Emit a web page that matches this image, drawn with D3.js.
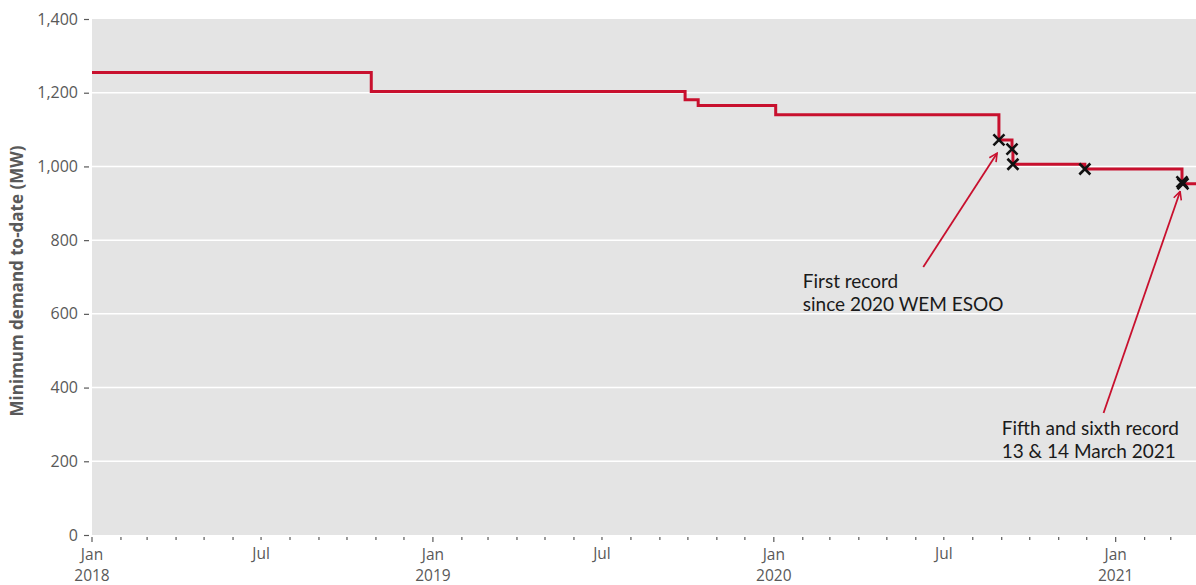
<!DOCTYPE html>
<html>
<head>
<meta charset="utf-8">
<script src="https://cdn.jsdelivr.net/npm/d3@7"></script>
<style>
  html, body { margin: 0; padding: 0; background: #fff; }
  svg { display: block; font-family: "Open Sans", "Noto Sans", sans-serif; }
</style>
</head>
<body>
<svg id="chart" width="1196" height="585"></svg>
<script>
// ---- data ----
const stepDates  = ["2018-01-01","2018-10-27","2019-09-28","2019-10-12","2020-01-03","2020-08-29","2020-09-12","2020-09-13","2020-11-29","2021-03-13","2021-03-14"];
const stepValues = [1255, 1203, 1181, 1165, 1140, 1072, 1047, 1006, 993, 958, 953];
const domainEnd  = "2021-03-28";

const recordDates  = ["2020-08-29","2020-09-12","2020-09-13","2020-11-29","2021-03-13","2021-03-14"];
const recordValues = [1072, 1047, 1006, 993, 958, 953];

const yTicks = [0, 200, 400, 600, 800, 1000, 1200, 1400];
const yTitle = "Minimum demand to-date (MW)";

const annotations = [
  { lines: ["First record", "since 2020 WEM ESOO"], textDate: "2020-02-01", textValue: 669,
    fromDate: "2020-06-09", fromValue: 727, toDate: "2020-08-27", toValue: 1036 },
  { lines: ["Fifth and sixth record", "13 & 14 March 2021"], textDate: "2020-09-01", textValue: 271,
    fromDate: "2020-12-19", fromValue: 331, toDate: "2021-03-11", toValue: 932 }
];

// ---- layout ----
const W = 1196, H = 585;
const margin = { left: 92, right: 0, top: 19, bottom: 50 };
const parse = d3.utcParse("%Y-%m-%d");
const svg = d3.select("#chart");

const x = d3.scaleUtc()
  .domain([parse(stepDates[0]), parse(domainEnd)])
  .range([margin.left, W - margin.right]);
const y = d3.scaleLinear()
  .domain([0, 1400])
  .range([H - margin.bottom, margin.top]);

const red = "#c8102e";
const grey = "#595959";

// plot background
svg.append("rect")
  .attr("x", x.range()[0]).attr("y", y(1400))
  .attr("width", x.range()[1] - x.range()[0])
  .attr("height", y(0) - y(1400))
  .attr("fill", "#e4e4e4");

// gridlines
svg.append("g").selectAll("line")
  .data(yTicks.filter(d => d > 0 && d < 1400))
  .join("line")
  .attr("x1", x.range()[0]).attr("x2", x.range()[1])
  .attr("y1", d => y(d)).attr("y2", d => y(d))
  .attr("stroke", "#fff").attr("stroke-width", 1.5);

// y axis
const yAxis = svg.append("g")
  .attr("transform", `translate(${x.range()[0] - 1},0)`)
  .call(d3.axisLeft(y).tickValues(yTicks).tickFormat(d3.format(",")).tickSize(5).tickPadding(8));
yAxis.select(".domain").remove();
yAxis.selectAll(".tick line").attr("stroke", grey).attr("stroke-width", 1.2).attr("transform", "translate(-2,0)");
yAxis.selectAll(".tick text").attr("fill", grey).style("font-size", "16px")
  .attr("font-family", "'Open Sans', sans-serif");

// x axis: monthly ticks
const months = x.ticks(d3.utcMonth.every(1));
const xg = svg.append("g").attr("transform", `translate(0,${y(0)})`);
xg.selectAll("line")
  .data(months)
  .join("line")
  .attr("x1", d => x(d)).attr("x2", d => x(d))
  .attr("y1", 2)
  .attr("y2", d => d.getUTCMonth() === 0 ? 7 : 5)
  .attr("stroke", grey).attr("stroke-width", 1.2);

const labelled = months.filter(d => d.getUTCMonth() === 0 || d.getUTCMonth() === 6);
xg.selectAll("text.mon")
  .data(labelled)
  .join("text")
  .attr("class", "mon")
  .attr("x", d => x(d))
  .attr("y", d => d.getUTCMonth() === 0 ? 25 : 24)
  .attr("text-anchor", "middle")
  .attr("fill", grey)
  .style("font-size", "15.5px")
  .text(d => d3.utcFormat("%b")(d));
xg.selectAll("text.yr")
  .data(labelled.filter(d => d.getUTCMonth() === 0))
  .join("text")
  .attr("class", "yr")
  .attr("x", d => x(d))
  .attr("y", 46)
  .attr("text-anchor", "middle")
  .attr("fill", grey)
  .style("font-size", "15.5px")
  .text(d => d3.utcFormat("%Y")(d));

// y title
svg.append("text")
  .attr("transform", `translate(23,${(y(0) + y(1400)) / 2 + 4}) rotate(-90)`)
  .attr("text-anchor", "middle")
  .attr("fill", grey)
  .style("font-size", "17px")
  .style("font-weight", "bold")
  .text(yTitle);

// step line
const steps = stepDates.map((d, i) => ({ date: parse(d), v: stepValues[i] }));
steps.push({ date: parse(domainEnd), v: stepValues[stepValues.length - 1] });
svg.append("path")
  .datum(steps)
  .attr("fill", "none")
  .attr("stroke", red)
  .attr("stroke-width", 3)
  .attr("d", d3.line().x(d => x(d.date)).y(d => y(d.v)).curve(d3.curveStepAfter));

// record markers
const recs = recordDates.map((d, i) => ({ date: parse(d), v: recordValues[i] }));
const s = 5.5;
svg.append("g").selectAll("path")
  .data(recs)
  .join("path")
  .attr("d", d => {
    const cx = x(d.date), cy = y(d.v);
    return `M${cx - s},${cy - s}L${cx + s},${cy + s}M${cx - s},${cy + s}L${cx + s},${cy - s}`;
  })
  .attr("stroke", "#111")
  .attr("stroke-width", 2.6)
  .attr("fill", "none");

// annotations
svg.append("defs").append("marker")
  .attr("id", "arrow")
  .attr("viewBox", "0 0 10 10")
  .attr("refX", 9).attr("refY", 5)
  .attr("markerWidth", 10).attr("markerHeight", 10)
  .attr("markerUnits", "userSpaceOnUse")
  .attr("orient", "auto")
  .append("path")
  .attr("d", "M1,1L9,5L1,9")
  .attr("fill", "none")
  .attr("stroke", red)
  .attr("stroke-width", 1.6);

annotations.forEach(a => {
  svg.append("line")
    .attr("x1", x(parse(a.fromDate))).attr("y1", y(a.fromValue))
    .attr("x2", x(parse(a.toDate))).attr("y2", y(a.toValue))
    .attr("stroke", red).attr("stroke-width", 1.8)
    .attr("marker-end", "url(#arrow)");
  a.lines.forEach((ln, i) => {
    svg.append("text")
      .attr("x", x(parse(a.textDate)))
      .attr("y", y(a.textValue) + i * 23)
      .attr("fill", "#1a1a1a")
      .style("font-family", "Lato, 'Open Sans', sans-serif")
      .style("font-size", "19px")
      .text(ln);
  });
});
</script>
</body>
</html>
